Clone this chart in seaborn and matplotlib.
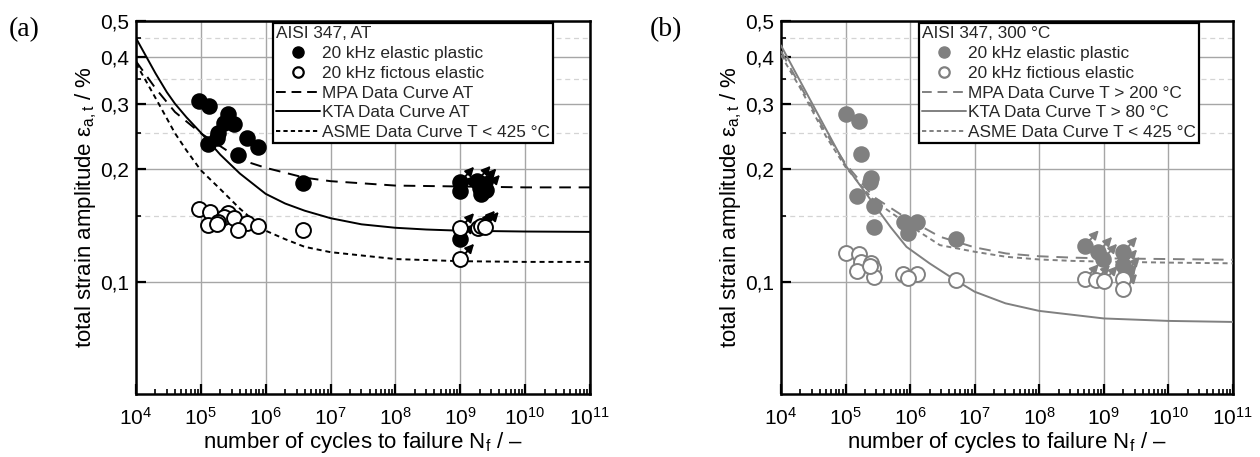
import numpy as np
import pandas as pd
import matplotlib
matplotlib.use("Agg")
import matplotlib.pyplot as plt
import seaborn as sns
from matplotlib.ticker import FixedLocator, FixedFormatter, LogLocator, NullFormatter
from matplotlib.lines import Line2D

# ---------------- data: panel (a), AISI 347 at ambient temperature ----------------
a_N_ep = [9.4e4, 1.35e5, 2.6e5, 2.3e5, 3.2e5, 1.85e5, 1.8e5, 1.3e5, 5.2e5, 7.5e5, 3.8e5, 3.7e6]
a_e_ep = [0.305, 0.295, 0.281, 0.266, 0.265, 0.251, 0.243, 0.234, 0.243, 0.230, 0.219, 0.184]
a_N_fe = [9.4e4, 1.38e5, 2.6e5, 2.3e5, 3.3e5, 1.85e5, 1.3e5, 1.8e5, 5.2e5, 7.5e5, 3.8e5, 3.7e6]
a_e_fe = [0.157, 0.154, 0.153, 0.149, 0.148, 0.145, 0.1415, 0.143, 0.1435, 0.141, 0.1377, 0.138]
# run-outs
a_N_ep_ro = [1e9, 1e9, 1e9, 1.8e9, 2.0e9, 2.2e9, 2.5e9, 2.1e9]
a_e_ep_ro = [0.185, 0.175, 0.130, 0.186, 0.178, 0.183, 0.176, 0.172]
a_N_fe_ro = [1e9, 1e9, 1.9e9, 2.1e9, 2.4e9]
a_e_fe_ro = [0.139, 0.115, 0.139, 0.141, 0.140]

a_mpa_N = [1e4, 2e4, 4e4, 1e5, 2.5e5, 5e5, 1e6, 4e6, 1e7, 1e8, 1e9, 1e10, 1e11]
a_mpa_e = [0.390, 0.330, 0.285, 0.250, 0.225, 0.210, 0.202, 0.190, 0.186, 0.181, 0.180, 0.179, 0.179]
a_kta_N = [1e4, 2e4, 3e4, 4e4, 6e4, 1e5, 2e5, 4e5, 1e6, 2e6, 4e6, 1e7, 3e7, 1e8, 3e8, 1e9, 1e10, 1e11]
a_kta_e = [0.450, 0.362, 0.322, 0.300, 0.276, 0.251, 0.219, 0.195, 0.172, 0.162, 0.155, 0.148,
           0.1425, 0.1395, 0.138, 0.137, 0.1363, 0.136]
a_asme_N = [1e4, 1.5e4, 2.5e4, 4e4, 6e4, 1e5, 2e5, 4e5, 1e6, 2e6, 4e6, 1e7, 1e8, 1e9, 1e10, 1e11]
a_asme_e = [0.385, 0.340, 0.290, 0.250, 0.225, 0.199, 0.177, 0.157, 0.137, 0.130, 0.124, 0.120,
            0.115, 0.1135, 0.113, 0.113]

# ---------------- data: panel (b), AISI 347 at 300 °C ----------------
b_N_ep = [1.0e5, 1.6e5, 1.75e5, 2.5e5, 2.4e5, 1.5e5, 2.8e5, 2.8e5, 8e5, 1.26e6, 9.3e5, 5.1e6]
b_e_ep = [0.281, 0.270, 0.220, 0.190, 0.185, 0.170, 0.160, 0.140, 0.145, 0.145, 0.135, 0.130]
b_N_fe = [1.0e5, 1.6e5, 1.75e5, 2.5e5, 2.7e5, 1.5e5, 2.8e5, 2.4e5, 7.8e5, 1.26e6, 9.2e5, 5.1e6]
b_e_fe = [0.1195, 0.119, 0.113, 0.112, 0.1085, 0.107, 0.103, 0.110, 0.105, 0.105, 0.1025, 0.101]
b_N_ep_ro = [5.1e8, 8.2e8, 9.8e8, 2.0e9, 2.0e9, 2.2e9]
b_e_ep_ro = [0.125, 0.120, 0.115, 0.120, 0.111, 0.106]
b_N_fe_ro = [5.1e8, 7.6e8, 1e9, 2e9, 2e9]
b_e_fe_ro = [0.1014, 0.101, 0.1003, 0.1014, 0.0955]

b_mpa_N = [1e4, 2e4, 5e4, 1e5, 2.7e5, 8.8e5, 2.9e6, 1e7, 3.1e7, 1e8, 3.3e8, 1e9, 1e10, 1e11]
b_mpa_e = [0.415, 0.335, 0.250, 0.207, 0.169, 0.148, 0.132, 0.1236, 0.119, 0.117, 0.116, 0.1155,
           0.115, 0.1145]
b_kta_N = [1e4, 2e4, 5e4, 1e5, 2.7e5, 5e5, 8.8e5, 2e6, 4.6e6, 1e7, 3e7, 1e8, 1e9, 1e10, 1e11]
b_kta_e = [0.430, 0.344, 0.256, 0.205, 0.162, 0.140, 0.124, 0.112, 0.102, 0.094, 0.0875, 0.0835,
           0.0797, 0.0785, 0.078]
b_asme_N = [1e4, 2e4, 5e4, 1e5, 2.7e5, 8.8e5, 2.9e6, 1e7, 3.1e7, 1e8, 3.3e8, 1e9, 1e10, 1e11]
b_asme_e = [0.405, 0.330, 0.245, 0.203, 0.1656, 0.1432, 0.1253, 0.1203, 0.1166, 0.1147, 0.1137,
            0.1132, 0.1125, 0.112]

y_ticks = [0.1, 0.2, 0.3, 0.4, 0.5]
y_tick_labels = ["0,1", "0,2", "0,3", "0,4", "0,5"]
y_minor = [0.15, 0.25, 0.35, 0.45]

# ---------------- style ----------------
sns.set_theme(style="ticks")
plt.rcParams["font.family"] = ["Liberation Sans", "DejaVu Sans"]
plt.rcParams["mathtext.fontset"] = "custom"
plt.rcParams["mathtext.rm"] = "Liberation Sans"
plt.rcParams["mathtext.it"] = "Liberation Sans:italic"
plt.rcParams["mathtext.default"] = "regular"

MPA_LS = (0, (6, 4))
ASME_LS = (0, (2.6, 2))

fig = plt.figure(figsize=(12.6, 4.57), dpi=100)
ax_a = fig.add_axes([0.1079, 0.1379, 0.3603, 0.8162])
ax_b = fig.add_axes([0.6198, 0.1379, 0.3587, 0.8162])


def draw_panel(ax, color, fin, runs, curves, title, labels, leg_anchor):
    ax.set_xscale("log")
    ax.set_yscale("log")
    ax.set_xlim(1e4, 1e11)
    ax.set_ylim(0.05, 0.5)

    (N_ep, e_ep, N_fe, e_fe) = fin
    (N_ep_ro, e_ep_ro, N_fe_ro, e_fe_ro) = runs

    # design curves
    (mN, me), (kN, ke), (sN, se) = curves
    sns.lineplot(x=mN, y=me, ax=ax, color=color, lw=1.4, linestyle=MPA_LS, sort=False, zorder=3)
    sns.lineplot(x=kN, y=ke, ax=ax, color=color, lw=1.4, linestyle="-", sort=False, zorder=3)
    sns.lineplot(x=sN, y=se, ax=ax, color=color, lw=1.4, linestyle=ASME_LS, sort=False, zorder=3)

    # run-out arrows
    for n, e in zip(list(N_ep_ro) + list(N_fe_ro), list(e_ep_ro) + list(e_fe_ro)):
        ax.annotate("", xy=(n, e), xytext=(10, 11), textcoords="offset points",
                    arrowprops=dict(arrowstyle="<|-", color=color, lw=1.4,
                                    mutation_scale=13, shrinkA=0, shrinkB=2),
                    zorder=4)

    # test results
    sns.scatterplot(x=list(N_ep) + list(N_ep_ro), y=list(e_ep) + list(e_ep_ro), ax=ax,
                    s=115, color=color, edgecolor=color, linewidth=1.2, zorder=5, legend=False)
    sns.scatterplot(x=list(N_fe) + list(N_fe_ro), y=list(e_fe) + list(e_fe_ro), ax=ax,
                    s=115, color="white", edgecolor=color, linewidth=1.4, zorder=5, legend=False)

    # axes formatting
    ax.xaxis.set_major_locator(LogLocator(base=10, numticks=20))
    ax.xaxis.set_minor_locator(LogLocator(base=10, subs=np.arange(2, 10), numticks=20))
    ax.xaxis.set_minor_formatter(NullFormatter())
    ax.yaxis.set_major_locator(FixedLocator(y_ticks))
    ax.yaxis.set_major_formatter(FixedFormatter(y_tick_labels))
    ax.yaxis.set_minor_locator(FixedLocator(y_minor))
    ax.yaxis.set_minor_formatter(NullFormatter())

    ax.tick_params(which="major", direction="in", length=7, width=1.6, labelsize=15,
                   color="black", labelcolor="black", pad=5)
    ax.tick_params(axis="x", which="major", pad=9)
    ax.tick_params(which="minor", direction="in", length=3.5, width=1.2, color="black")
    ax.tick_params(axis="y", which="both", right=False)
    ax.tick_params(axis="x", which="both", top=False)

    ax.set_axisbelow(True)
    ax.grid(axis="x", which="major", color="#a6a6a6", lw=1.0, ls="-")
    ax.grid(axis="y", which="major", color="#a6a6a6", lw=1.0, ls="-")
    ax.grid(axis="y", which="minor", color="#d4d4d4", lw=0.9, ls=(0, (4, 3)))
    ax.grid(axis="x", which="minor", visible=False)

    for sp in ax.spines.values():
        sp.set_visible(True)
        sp.set_color("black")
        sp.set_linewidth(1.8)

    ax.set_xlabel(r"number of cycles to failure $\mathregular{N_f}$ / –", fontsize=16,
                  color="black", labelpad=1)
    ax.set_ylabel(r"total strain amplitude $\mathregular{ε_{a,t}}$ / %", fontsize=16,
                  color="black", labelpad=1)

    handles = [
        Line2D([], [], marker="o", ls="none", mfc=color, mec=color, ms=8),
        Line2D([], [], marker="o", ls="none", mfc="white", mec=color, ms=7.5, mew=1.6),
        Line2D([], [], color=color, lw=1.4, ls=(0, (5, 3))),
        Line2D([], [], color=color, lw=1.4, ls="-"),
        Line2D([], [], color=color, lw=1.4, ls=(0, (2.2, 1.6))),
    ]
    leg = ax.legend(handles, labels, title=title, loc="upper right",
                    bbox_to_anchor=leg_anchor, frameon=True, fancybox=False,
                    framealpha=1, edgecolor="black", fontsize=12.4, title_fontsize=12.4,
                    alignment="left", handlelength=2.55, handletextpad=0.12,
                    borderpad=0.18, labelspacing=0.28, borderaxespad=0)
    leg.get_frame().set_linewidth(1.6)
    leg.set_zorder(10)


draw_panel(ax_a, "black",
           (a_N_ep, a_e_ep, a_N_fe, a_e_fe),
           (a_N_ep_ro, a_e_ep_ro, a_N_fe_ro, a_e_fe_ro),
           ((a_mpa_N, a_mpa_e), (a_kta_N, a_kta_e), (a_asme_N, a_asme_e)),
           "AISI 347, AT",
           ["20 kHz elastic plastic", "20 kHz fictous elastic", "MPA Data Curve AT",
            "KTA Data Curve AT", "ASME Data Curve T < 425 °C"],
           (0.9185, 0.995))

draw_panel(ax_b, "#808080",
           (b_N_ep, b_e_ep, b_N_fe, b_e_fe),
           (b_N_ep_ro, b_e_ep_ro, b_N_fe_ro, b_e_fe_ro),
           ((b_mpa_N, b_mpa_e), (b_kta_N, b_kta_e), (b_asme_N, b_asme_e)),
           "AISI 347, 300 °C",
           ["20 kHz elastic plastic", "20 kHz fictious elastic", "MPA Data Curve T > 200 °C",
            "KTA Data Curve T > 80 °C", "ASME Data Curve T < 425 °C"],
           (0.925, 0.995))

fig.text(0.007, 0.962, "(a)", family=["Liberation Serif", "DejaVu Serif"], fontsize=20,
         va="top", ha="left", color="black")
fig.text(0.516, 0.962, "(b)", family=["Liberation Serif", "DejaVu Serif"], fontsize=20,
         va="top", ha="left", color="black")

fig.savefig("out.png", dpi=100)
